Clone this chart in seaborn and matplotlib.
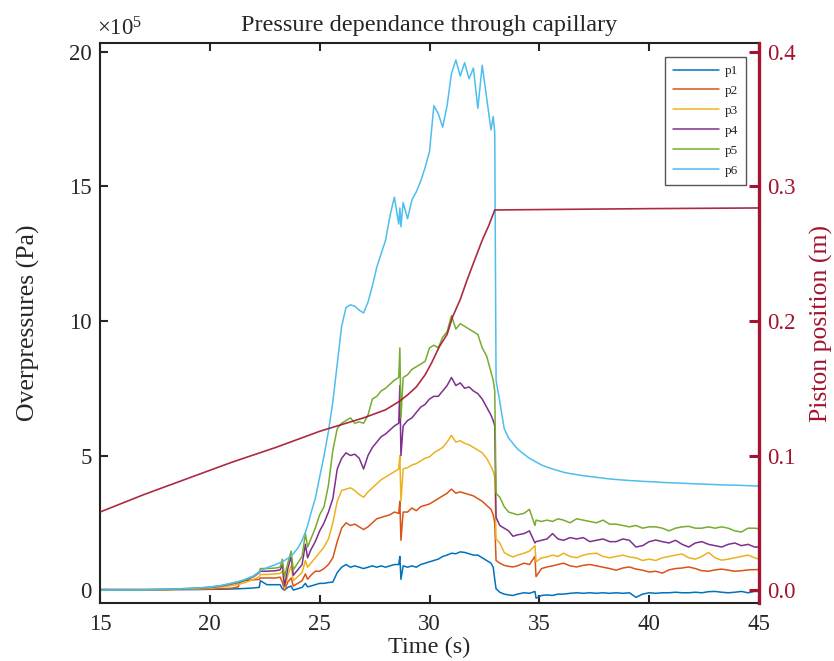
import matplotlib
matplotlib.use("Agg")
import matplotlib.pyplot as plt
import seaborn as sns
import pandas as pd

# ---------------- data (pressures in units of 1e5 Pa) ----------------
time_s = [
    15, 16, 17, 18, 19, 19.5, 20, 20.5, 21, 21.3, 21.35, 21.6, 22.0, 22.25, 22.3, 22.6, 23.0,
    23.2, 23.3, 23.4, 23.55, 23.7, 23.8, 24.0, 24.2, 24.35, 24.45, 24.6, 24.8, 25.0, 25.2, 25.4, 25.6, 25.8,
    26.0, 26.2, 26.4, 26.6, 26.8, 27.0, 27.2, 27.4, 27.6, 27.8, 28.0, 28.2, 28.4, 28.6, 28.65, 28.7, 28.8,
    29.0, 29.2, 29.4, 29.6, 29.8, 30.0, 30.2, 30.4, 30.6, 30.8, 31.0, 31.2, 31.4, 31.6, 31.8, 32.0, 32.2,
    32.4, 32.6, 32.8,
    32.9, 32.97, 33.03, 33.2, 33.4, 33.6, 33.8, 34.0, 34.3, 34.55, 34.8, 34.85, 35.1, 35.35, 35.6, 35.85,
    36.1, 36.4, 36.7, 37.0, 37.3, 37.6, 37.9, 38.2, 38.5, 38.8, 39.1, 39.4, 39.7, 40.0, 40.3, 40.6, 40.9,
    41.2, 41.5, 41.8, 42.1, 42.4, 42.7, 43.0, 43.3, 43.6, 43.9, 44.2, 44.5, 44.8, 45.0,
]

p1 = [
    0.02, 0.02, 0.02, 0.02, 0.02, 0.02, 0.03, 0.03, 0.04, 0.05, 0.05, 0.06, 0.08, 0.10, 0.35, 0.20, 0.20,
    0.20, 0.05, 0.00, 0.10, 0.15, 0.00, 0.05, 0.10, 0.25, 0.12, 0.15, 0.20, 0.25, 0.25, 0.28, 0.30, 0.65,
    0.85, 0.95, 0.85, 0.90, 0.85, 0.80, 0.85, 0.90, 0.85, 0.90, 0.85, 0.90, 0.95, 0.95, 1.25, 0.40, 0.90,
    0.85, 0.90, 0.85, 0.95, 1.00, 1.05, 1.10, 1.15, 1.25, 1.30, 1.37, 1.35, 1.42, 1.40, 1.35, 1.30, 1.30,
    1.20, 1.10, 1.00,
    0.85, 0.40, 0.05, -0.08, -0.15, -0.18, -0.20, -0.15, -0.10, -0.12, -0.05, -0.30, -0.20, -0.18, -0.20, -0.15,
    -0.15, -0.12, -0.10, -0.12, -0.10, -0.12, -0.10, -0.12, -0.10, -0.12, -0.10, -0.27, -0.15, -0.10, -0.12, -0.10, -0.10,
    -0.08, -0.10, -0.10, -0.08, -0.10, -0.06, -0.05, -0.08, -0.10, -0.08, -0.05, -0.10, -0.05, -0.05,
]

p2 = [
    0.02, 0.02, 0.02, 0.02, 0.03, 0.03, 0.04, 0.05, 0.07, 0.12, 0.30, 0.36, 0.38, 0.40, 0.45, 0.45, 0.45,
    0.48, 0.30, 0.00, 0.30, 0.45, 0.15, 0.25, 0.35, 0.60, 0.40, 0.55, 0.70, 0.70, 0.80, 0.95, 1.20, 1.80,
    2.30, 2.50, 2.40, 2.45, 2.35, 2.25, 2.35, 2.50, 2.65, 2.70, 2.75, 2.80, 2.90, 2.85, 3.30, 1.85, 2.90,
    2.90, 3.05, 2.95, 3.10, 3.15, 3.20, 3.30, 3.40, 3.50, 3.60, 3.75, 3.60, 3.65, 3.60, 3.55, 3.50, 3.40,
    3.30, 3.15, 3.00,
    2.80, 2.50, 1.10, 1.00, 0.92, 0.88, 0.86, 0.90, 1.00, 0.95, 1.25, 0.50, 0.80, 0.86, 0.90, 0.95,
    1.00, 0.90, 0.86, 0.92, 0.95, 0.90, 0.85, 0.80, 0.74, 0.82, 0.86, 0.78, 0.74, 0.67, 0.70, 0.63, 0.75,
    0.80, 0.82, 0.86, 0.80, 0.72, 0.70, 0.75, 0.78, 0.74, 0.70, 0.72, 0.75, 0.76, 0.76,
]

p3 = [
    0.00, 0.00, 0.00, 0.01, 0.03, 0.05, 0.07, 0.11, 0.17, 0.21, 0.22, 0.28, 0.40, 0.50, 0.58, 0.58, 0.60,
    0.62, 0.70, 0.05, 0.55, 0.90, 0.35, 0.50, 0.65, 1.10, 0.85, 1.00, 1.20, 1.40, 1.60, 1.90, 2.50, 3.30,
    3.70, 3.75, 3.80, 3.70, 3.55, 3.45, 3.65, 3.80, 3.95, 4.10, 4.20, 4.30, 4.40, 4.50, 5.00, 3.30, 4.50,
    4.55, 4.65, 4.70, 4.80, 4.90, 4.95, 5.10, 5.20, 5.30, 5.50, 5.75, 5.50, 5.55, 5.45, 5.40, 5.30, 5.20,
    5.10, 4.90, 4.60,
    4.40, 4.20, 1.90, 1.75, 1.40, 1.30, 1.23, 1.30, 1.37, 1.45, 1.65, 1.05, 1.20, 1.23, 1.30, 1.25,
    1.37, 1.25, 1.20, 1.30, 1.35, 1.37, 1.25, 1.20, 1.25, 1.30, 1.23, 1.20, 1.10, 1.15, 1.10, 1.20, 1.25,
    1.30, 1.34, 1.20, 1.15, 1.25, 1.40, 1.20, 1.11, 1.15, 1.20, 1.25, 1.30, 1.20, 1.15,
]

p4 = [
    0.00, 0.00, 0.01, 0.02, 0.05, 0.07, 0.10, 0.15, 0.23, 0.28, 0.29, 0.36, 0.50, 0.65, 0.70, 0.70, 0.72,
    0.75, 0.95, 0.15, 0.80, 1.25, 0.55, 0.75, 0.95, 1.70, 1.20, 1.50, 1.80, 2.20, 2.50, 2.90, 3.40, 4.50,
    4.90, 5.10, 5.00, 5.05, 4.90, 4.50, 5.00, 5.30, 5.50, 5.70, 5.80, 5.95, 6.10, 6.20, 7.60, 5.00, 6.10,
    6.30, 6.40, 6.60, 6.80, 6.90, 7.10, 7.20, 7.20, 7.40, 7.60, 7.90, 7.60, 7.70, 7.50, 7.55, 7.40, 7.30,
    7.10, 6.80, 6.50,
    6.30, 6.10, 2.70, 2.40, 2.30, 2.20, 2.00, 2.05, 2.10, 2.20, 1.75, 1.80, 1.85, 1.90, 2.10, 1.90,
    1.85, 1.95, 1.90, 1.95, 1.80, 1.85, 1.90, 1.80, 1.80, 1.90, 1.85, 1.60, 1.65, 1.80, 1.86, 1.80, 1.75,
    1.85, 1.70, 1.60, 1.75, 1.80, 1.70, 1.65, 1.60, 1.70, 1.75, 1.65, 1.70, 1.60, 1.60,
]

p5 = [
    0.00, 0.00, 0.01, 0.03, 0.06, 0.08, 0.11, 0.16, 0.25, 0.30, 0.31, 0.38, 0.52, 0.68, 0.80, 0.80, 0.82,
    0.85, 1.15, 0.50, 1.00, 1.45, 0.75, 1.00, 1.25, 2.10, 1.60, 1.90, 2.30, 2.80, 3.10, 3.90, 5.20, 6.00,
    6.20, 6.30, 6.40, 6.20, 6.25, 6.20, 6.50, 7.10, 7.20, 7.40, 7.50, 7.65, 7.80, 7.90, 9.00, 6.40, 7.90,
    8.00, 8.20, 8.30, 8.40, 8.50, 9.00, 9.10, 9.00, 9.40, 9.60, 10.20, 9.70, 9.90, 9.80, 9.70, 9.60, 9.50,
    9.00, 8.70, 8.10,
    7.80, 7.40, 3.60, 3.45, 3.10, 2.90, 2.85, 2.80, 2.85, 3.00, 2.40, 2.60, 2.55, 2.60, 2.55, 2.65,
    2.60, 2.50, 2.65, 2.60, 2.55, 2.50, 2.60, 2.45, 2.45, 2.40, 2.35, 2.40, 2.30, 2.35, 2.35, 2.30, 2.20,
    2.30, 2.35, 2.37, 2.30, 2.30, 2.35, 2.30, 2.35, 2.30, 2.20, 2.16, 2.30, 2.30, 2.28,
]

p6 = [
    0.00, 0.00, 0.01, 0.03, 0.06, 0.08, 0.11, 0.17, 0.26, 0.32, 0.33, 0.40, 0.53, 0.68, 0.72, 0.83, 0.95,
    1.02, 1.06, 1.10, 1.18, 1.28, 1.35, 1.55, 1.85, 2.15, 2.40, 2.85, 3.40, 4.20, 5.00, 5.90, 7.00, 8.40,
    9.80, 10.50, 10.60, 10.55, 10.40, 10.30, 10.70, 11.30, 12.00, 12.50, 13.00, 13.90, 14.60, 13.60, 14.20, 13.50, 14.40,
    13.80, 14.50, 14.80, 15.20, 15.70, 16.30, 18.00, 17.70, 17.20, 18.00, 19.20, 19.70, 19.10, 19.60, 19.00, 19.40, 17.90,
    19.50, 18.30, 17.10,
    17.60, 17.00, 7.80, 7.00, 6.00, 5.65, 5.45, 5.25, 5.05, 4.90, 4.78, 4.76, 4.65, 4.57, 4.50, 4.44,
    4.38, 4.33, 4.29, 4.25, 4.22, 4.19, 4.16, 4.13, 4.11, 4.09, 4.07, 4.06, 4.04, 4.03, 4.02, 4.00, 3.99,
    3.98, 3.97, 3.96, 3.95, 3.94, 3.93, 3.92, 3.91, 3.90, 3.90, 3.89, 3.88, 3.87, 3.87,
]

piston_t = [15, 17, 19, 21, 23, 24, 25, 26, 27, 28, 28.6, 29.0, 29.4, 29.8, 30.1, 30.45, 30.8,
            31.05, 31.4, 31.7, 32.0, 32.4, 32.7, 32.97, 35, 40, 45]
piston_m = [0.058, 0.071, 0.083, 0.095, 0.106, 0.112, 0.118, 0.123, 0.128, 0.134, 0.140, 0.145,
            0.151, 0.160, 0.169, 0.181, 0.190, 0.203, 0.216, 0.230, 0.243, 0.260, 0.271, 0.2825,
            0.2828, 0.2835, 0.284]

sensors = ["p1", "p2", "p3", "p4", "p5", "p6"]
colors = ["#0072BD", "#D95319", "#EDB120", "#7E2F8E", "#77AC30", "#4DBEEE"]
x_ticks = [15, 20, 25, 30, 35, 40, 45]
y_ticks = [0, 5, 10, 15, 20]
y2_ticks = [0.0, 0.1, 0.2, 0.3, 0.4]

# ---------------- styling ----------------
sns.set_style("ticks")
plt.rcParams["font.family"] = ["Liberation Serif", "DejaVu Serif"]
plt.rcParams["mathtext.fontset"] = "custom"
plt.rcParams["mathtext.rm"] = "Liberation Serif"
plt.rcParams["mathtext.it"] = "Liberation Serif:italic"

red = "#A2142F"
fs_tick = 16.5
fs_lab = 17.5
fs_ylab = 18.5

df = pd.DataFrame({"time": time_s, "p1": p1, "p2": p2, "p3": p3,
                   "p4": p4, "p5": p5, "p6": p6})
long = df.melt(id_vars="time", var_name="sensor", value_name="pressure")
pist = pd.DataFrame({"time": piston_t, "pos": piston_m})

fig = plt.figure(figsize=(8.34, 6.61), dpi=100)
ax = fig.add_axes([100 / 834, 1 - 603 / 661, 659 / 834, 560 / 661])

sns.lineplot(data=long, x="time", y="pressure", hue="sensor", hue_order=sensors,
             palette=colors, estimator=None, linewidth=1.1, ax=ax)

ax2 = ax.twinx()
sns.lineplot(data=pist, x="time", y="pos", color=red, linewidth=1.2, alpha=0.9,
             estimator=None, ax=ax2)

ax.set_xlim(15, 45)
ax.set_ylim(-0.48, 20.33)
ax2.set_ylim(-0.48 / 50, 20.33 / 50)
ax.set_xticks(x_ticks)
ax.set_yticks(y_ticks)
ax2.set_yticks(y2_ticks)
ax2.set_yticklabels([f"{v:.1f}" for v in y2_ticks])

ax.set_xlabel("Time (s)", fontsize=fs_lab, labelpad=1)
ax.set_ylabel("Overpressures (Pa)", fontsize=fs_ylab, labelpad=21)
ax2.set_ylabel("Piston position (m)", fontsize=fs_ylab, color=red, labelpad=10)
ax.set_title("Pressure dependance through capillary", fontsize=fs_lab, pad=9)

ax.tick_params(axis="x", which="both", direction="in", top=True, bottom=True,
               length=6, width=1.5, labelsize=fs_tick, pad=8)
ax.tick_params(axis="y", direction="in", left=True, right=False,
               length=6, width=1.5, labelsize=fs_tick, pad=6)
ax2.tick_params(axis="y", direction="in", right=True, length=7, width=2.2,
                colors=red, labelsize=fs_tick, pad=6)

for s in ["left", "top", "bottom"]:
    ax.spines[s].set_linewidth(1.5)
    ax.spines[s].set_color("#222222")
    ax2.spines[s].set_visible(False)
ax.spines["right"].set_visible(False)
ax2.spines["right"].set_color(red)
ax2.spines["right"].set_linewidth(2.4)

ax.text(-0.005, 1.005, "×10$^{5}$", transform=ax.transAxes, ha="left", va="bottom",
        fontsize=fs_tick)

handles, labels = ax.get_legend_handles_labels()
leg = ax.legend(handles, labels, loc="upper right", bbox_to_anchor=(0.98, 0.975),
                borderaxespad=0, fontsize=9.5, frameon=True, fancybox=False,
                edgecolor="#555555", framealpha=1, handlelength=3.5,
                handletextpad=0.4, labelspacing=0.58, borderpad=0.6)
leg.get_frame().set_linewidth(1.0)
for line in leg.get_lines():
    line.set_linewidth(1.1)

fig.savefig("out.png", dpi=100)
